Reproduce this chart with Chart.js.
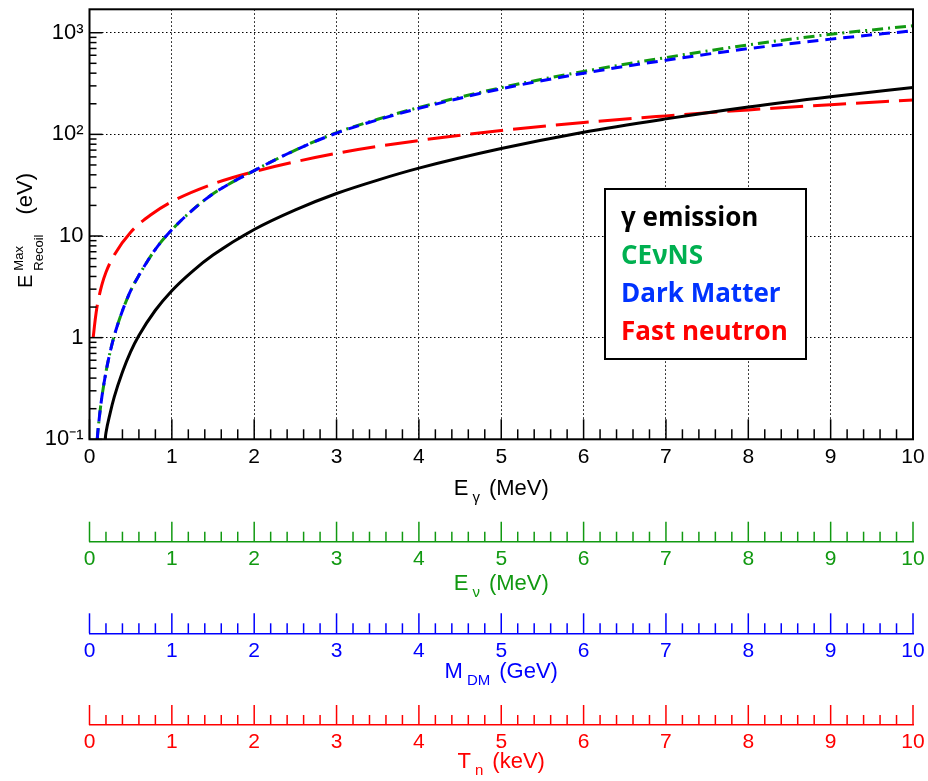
<!DOCTYPE html>
<html>
<head>
<meta charset="utf-8">
<script src="https://cdn.jsdelivr.net/npm/chart.js@4.4.1/dist/chart.umd.min.js"></script>
<style>
  html, body { margin: 0; padding: 0; background: #fff; }
</style>
</head>
<body>
<canvas id="recoilChart" width="928" height="781"></canvas>
<script>
// gamma emission
var gammaE = [0.19, 0.2, 0.25, 0.3, 0.4, 0.5, 0.6, 0.8, 1, 1.25, 1.5, 2, 2.5, 3, 3.5, 4, 5, 6, 7, 8, 9, 10];
var gammaRecoil = [0.1, 0.116, 0.18, 0.26, 0.46, 0.73, 1.05, 1.86, 2.9, 4.5, 6.5, 11.6, 18.1, 26.2, 35.5, 46.5, 72.5, 105, 142, 186, 235, 290];
// CEvNS and dark matter share the same x points
var cevnsE = [0.094, 0.1, 0.125, 0.15, 0.2, 0.25, 0.3, 0.4, 0.5, 0.6, 0.8, 1, 1.25, 1.5, 2, 2.5, 3, 3.5, 4, 5, 6, 7, 8, 9, 10];
var cevnsRecoil = [0.1, 0.115, 0.18, 0.26, 0.46, 0.72, 1.04, 1.84, 2.9, 4.1, 7.4, 11.5, 18, 26, 44, 70, 104, 141, 184, 288, 416, 570, 760, 965, 1170];
var dmRecoil = [0.1, 0.115, 0.18, 0.26, 0.46, 0.72, 1.04, 1.84, 2.9, 4.1, 7.4, 11.5, 18, 26, 44, 70, 103, 139, 180, 281, 400, 537, 697, 865, 1045];
// fast neutron
var neutronE = [0.045, 0.06, 0.08, 0.1, 0.15, 0.2, 0.3, 0.5, 0.75, 1, 1.5, 2, 3, 4, 5, 6, 7, 8, 9, 10];
var neutronRecoil = [1.0, 1.3, 1.75, 2.2, 3.3, 4.4, 6.5, 10.9, 16.3, 21.8, 32.5, 43, 65, 87, 109, 131, 152, 174, 196, 218];

var yTicks = [0.1, 1, 10, 100, 1000];
var yTickLabels = ['10\u207B\u00B9', '1', '10', '10\u00B2', '10\u00B3'];
var legendLabels = ['\u03B3 emission', 'CE\u03BDNS', 'Dark Matter', 'Fast neutron'];

// axis titles: [main, subscript, unit]
var titleGamma = ['E', '\u03B3', '(MeV)'];
var titleNu = ['E', '\u03BD', '(MeV)'];
var titleDM = ['M', 'DM', '(GeV)'];
var titleN = ['T', 'n', '(keV)'];
// [main, superscript, subscript, unit]
var titleY = ['E', 'Max', 'Recoil', '(eV)'];

var FONT = "'Liberation Sans', Arial, sans-serif";
var GREEN = '#119911', BLUE = '#0000ff', RED = '#ff0000';

function pts(xs, ys) {
    return xs.map(function(x, i) { return {x: x, y: ys[i]}; });
}

function noPadX(h) {
    return function(s) { s.height = h; s.paddingLeft = 0; s.paddingRight = 0; };
}

function extraAxis(color, weight, h) {
    return {
        type: 'linear', position: 'bottom', min: 0, max: 10, weight: weight,
        ticks: { stepSize: 1, color: color, padding: 5, autoSkip: false, maxRotation: 0,
                 font: { family: FONT, size: 21 } },
        grid: { drawOnChartArea: false, drawTicks: false },
        border: { display: true, color: color, width: 1.5 },
        afterFit: noPadX(h)
    };
}

var extraAxes = [
    { id: 'xNu', color: GREEN, title: titleNu, dy: 48.5 },
    { id: 'xDM', color: BLUE, title: titleDM, dy: 45 },
    { id: 'xN', color: RED, title: titleN, dy: 43.3 }
];

function line(ctx, x1, y1, x2, y2) {
    ctx.beginPath(); ctx.moveTo(x1, y1); ctx.lineTo(x2, y2); ctx.stroke();
}

// title with a subscript, centred on cx
function drawSubTitle(ctx, parts, cx, y, color) {
    var big = '22px ' + FONT, small = '15px ' + FONT;
    ctx.font = big; var w0 = ctx.measureText(parts[0]).width;
    var w2 = ctx.measureText(parts[2]).width;
    ctx.font = small; var w1 = ctx.measureText(parts[1]).width;
    var total = w0 + 4 + w1 + 9 + w2;
    var x = cx - total / 2;
    ctx.fillStyle = color; ctx.textAlign = 'left'; ctx.textBaseline = 'alphabetic';
    ctx.font = big; ctx.fillText(parts[0], x, y);
    ctx.font = small; ctx.fillText(parts[1], x + w0 + 4, y + 7);
    ctx.font = big; ctx.fillText(parts[2], x + w0 + 4 + w1 + 9, y);
}

var decor = {
    id: 'decor',
    afterDraw: function(chart) {
        var ctx = chart.ctx, a = chart.chartArea, sc = chart.scales;
        var i, px, py;
        ctx.save();
        // inner ticks, x
        ctx.strokeStyle = '#000'; ctx.lineWidth = 1.5;
        for (i = 0; i <= 50; i++) {
            px = sc.x.getPixelForValue(i / 5);
            line(ctx, px, a.bottom, px, a.bottom - (i % 5 === 0 ? 20 : 10));
        }
        // inner ticks, y (log)
        yTicks.forEach(function(dec) {
            for (var k = 1; k <= 9; k++) {
                var v = k * dec;
                if (v > sc.y.max) break;
                py = sc.y.getPixelForValue(v);
                line(ctx, a.left, py, a.left + (k === 1 ? 13 : 7), py);
            }
        });
        // extra axes ticks + titles
        extraAxes.forEach(function(ax) {
            var s = sc[ax.id];
            ctx.strokeStyle = ax.color; ctx.lineWidth = 1.5;
            for (i = 0; i <= 50; i++) {
                px = s.getPixelForValue(i / 5);
                line(ctx, px, s.top, px, s.top - (i % 5 === 0 ? 20 : 10));
            }
            drawSubTitle(ctx, ax.title, (a.left + a.right) / 2, s.top + ax.dy, ax.color);
        });
        drawSubTitle(ctx, titleGamma, (a.left + a.right) / 2, sc.x.top + 55.7, '#000');

        // y title, rotated
        ctx.save();
        ctx.translate(32, 288);
        ctx.rotate(-Math.PI / 2);
        ctx.fillStyle = '#000'; ctx.textAlign = 'left'; ctx.textBaseline = 'alphabetic';
        ctx.font = '20px ' + FONT;
        var wE = ctx.measureText(titleY[0]).width;
        ctx.fillText(titleY[0], 0, 0);
        ctx.font = '13px ' + FONT;
        ctx.fillText(titleY[1], wE + 4, -9);
        ctx.fillText(titleY[2], wE + 4, 11);
        var wS = Math.max(ctx.measureText(titleY[1]).width, ctx.measureText(titleY[2]).width);
        ctx.font = '22px ' + FONT;
        ctx.fillText(titleY[3], wE + 4 + wS + 20, 0);
        ctx.restore();

        // legend box
        ctx.fillStyle = '#fff';
        ctx.fillRect(605, 189, 201, 170);
        ctx.strokeStyle = '#000'; ctx.lineWidth = 2;
        ctx.strokeRect(605, 189, 201, 170);
        var legendColors = ['#000000', '#00b050', '#0033ff', '#ff0000'];
        ctx.font = "bold 26px 'Open Sans', Lato, sans-serif";
        ctx.textAlign = 'left'; ctx.textBaseline = 'alphabetic';
        legendLabels.forEach(function(t, j) {
            ctx.fillStyle = legendColors[j];
            ctx.fillText(t, 621, 226 + 38 * j);
        });

        // frame
        ctx.strokeStyle = '#000'; ctx.lineWidth = 2;
        ctx.strokeRect(a.left, a.top, a.right - a.left, a.bottom - a.top);
        ctx.restore();
    }
};

var lineBase = { pointRadius: 0, borderWidth: 3, fill: false, cubicInterpolationMode: 'monotone' };

var chart = new Chart(document.getElementById('recoilChart'), {
    type: 'line',
    data: {
        datasets: [
            Object.assign({ label: legendLabels[0], data: pts(gammaE, gammaRecoil), borderColor: '#000', order: 2 }, lineBase),
            Object.assign({ label: legendLabels[1], data: pts(cevnsE, cevnsRecoil), borderColor: GREEN, borderDash: [11, 5, 2, 5], order: 1 }, lineBase),
            Object.assign({ label: legendLabels[2], data: pts(cevnsE, dmRecoil), borderColor: BLUE, borderDash: [11, 7], order: 0 }, lineBase),
            Object.assign({ label: legendLabels[3], data: pts(neutronE, neutronRecoil), borderColor: RED, borderDash: [33, 10], order: 3 }, lineBase)
        ]
    },
    options: {
        responsive: false,
        animation: false,
        layout: { padding: { left: 0, top: 9.3, right: 15, bottom: 0 } },
        plugins: { legend: { display: false }, tooltip: { enabled: false } },
        scales: {
            x: {
                type: 'linear', position: 'bottom', min: 0, max: 10, weight: 0,
                ticks: { stepSize: 1, color: '#000', padding: 5, autoSkip: false, maxRotation: 0,
                         font: { family: FONT, size: 21 } },
                grid: { color: '#000', lineWidth: 1, drawTicks: false },
                border: { display: false, dash: [1.5, 2.5] },
                afterFit: noPadX(102.4)
            },
            xNu: extraAxis(GREEN, 1, 91.6),
            xDM: extraAxis(BLUE, 2, 91.7),
            xN: extraAxis(RED, 3, 56),
            y: {
                type: 'logarithmic', position: 'left', min: 0.1, max: 1700,
                afterBuildTicks: function(s) { s.ticks = yTicks.map(function(v) { return { value: v }; }); },
                ticks: { color: '#000', padding: 6, font: { family: FONT, size: 22 },
                         callback: function(v, i) { return yTickLabels[i]; } },
                grid: { color: '#000', lineWidth: 1, drawTicks: false },
                border: { display: false, dash: [1.5, 2.5] },
                afterFit: function(s) { s.width = 89.5; s.paddingTop = 0; s.paddingBottom = 0; }
            }
        }
    },
    plugins: [decor]
});
</script>
</body>
</html>
